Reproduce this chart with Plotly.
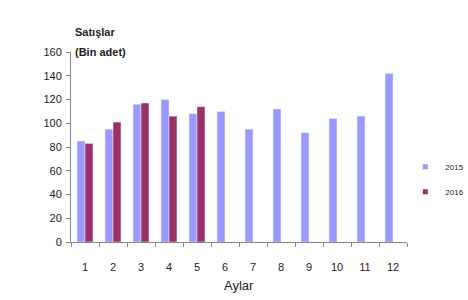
import plotly.graph_objects as go

months = ["1", "2", "3", "4", "5", "6", "7", "8", "9", "10", "11", "12"]
sales_2015 = [85, 95, 116, 120, 108, 110, 95, 112, 92, 104, 106, 142]
sales_2016 = [83, 101, 117, 106, 114]
y_ticks = [0, 20, 40, 60, 80, 100, 120, 140, 160]
c2015 = "#9999FF"
c2016 = "#993366"

fig = go.Figure()
fig.add_trace(go.Bar(x=months, y=sales_2015, name="2015", marker_color=c2015,
                     showlegend=False))
fig.add_trace(go.Bar(x=months[:len(sales_2016)], y=sales_2016, name="2016",
                     marker_color=c2016, showlegend=False))
# legend entries with small square swatches
fig.add_trace(go.Scatter(x=[None], y=[None], mode="markers", name="2015",
                         legendgroup="a",
                         marker=dict(symbol="square", size=5, color=c2015)))
fig.add_trace(go.Scatter(x=[None], y=[None], mode="markers", name="2016",
                         legendgroup="b",
                         marker=dict(symbol="square", size=5, color=c2016)))

fig.update_layout(
    width=468, height=300,
    margin=dict(l=71, r=61, t=52, b=58, autoexpand=False),
    paper_bgcolor="white", plot_bgcolor="white",
    barmode="group", bargap=0.43, bargroupgap=0,
    font=dict(family="Liberation Sans, Arial", size=11, color="#222"),
    showlegend=True,
    legend=dict(x=0.995, y=0.33, xanchor="left", yanchor="middle",
                font=dict(size=8), itemwidth=30, tracegroupgap=6,
                bgcolor="rgba(0,0,0,0)"),
    xaxis=dict(type="category", categoryorder="array", categoryarray=months,
               showline=True, linecolor="#888", linewidth=1,
               ticks="outside", ticklen=4, tickcolor="#888", tickson="boundaries",
               ticklabelstandoff=15, showgrid=False, zeroline=False,
               tickfont=dict(size=11)),
    yaxis=dict(range=[0, 160], tickvals=y_ticks, showline=True, linecolor="#888",
               linewidth=1, ticks="outside", ticklen=4, tickcolor="#888",
               showgrid=False, zeroline=False, ticklabelstandoff=2,
               tickfont=dict(size=11)),
    annotations=[
        dict(text="<b>Satışlar</b>", xref="paper", yref="paper", x=0, y=1,
             xanchor="left", yanchor="middle", xshift=2, yshift=20, showarrow=False,
             font=dict(size=11, family="Liberation Sans Narrow, Liberation Sans")),
        dict(text="<b>(Bin adet)</b>", xref="paper", yref="paper", x=0, y=1,
             xanchor="left", yanchor="middle", xshift=2, yshift=0, showarrow=False,
             font=dict(size=11, family="Liberation Sans Narrow, Liberation Sans")),
        dict(text="Aylar", xref="paper", yref="paper", x=0.5, y=0,
             xanchor="center", yanchor="middle", yshift=-43, showarrow=False,
             font=dict(size=13, family="Liberation Sans Narrow, Liberation Sans")),
    ],
)

fig.write_html("out.html")
